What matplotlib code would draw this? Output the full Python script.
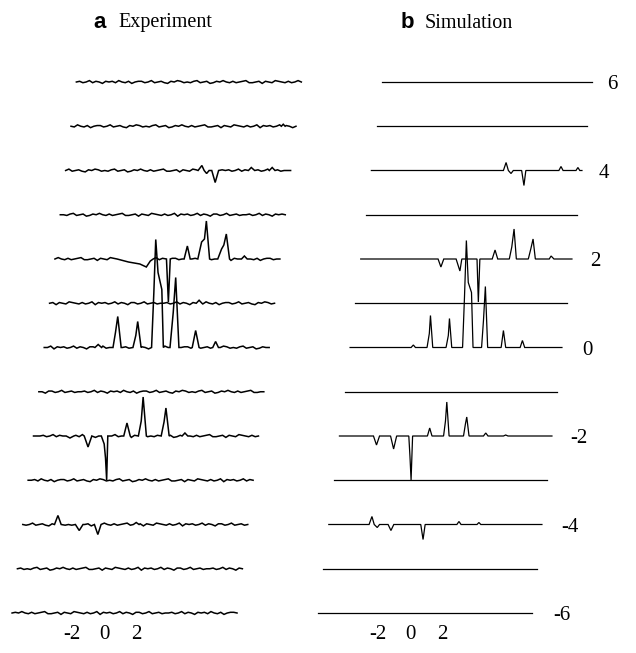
import numpy as np
import matplotlib
matplotlib.use("Agg")
import matplotlib.pyplot as plt

W, H = 636, 653
PX = 19.0          # pixels per spectral unit
LEVEL_PX = 44.25   # pixels between trace baselines

levels = [6, 5, 4, 3, 2, 1, 0, -1, -2, -3, -4, -5, -6]
level_labels = [6, 4, 2, 0, -2, -4, -6]
axis_ticks = [-2, 0, 2]

# peak groups: (position, height in px); each group starts and ends on the baseline
exp_features = {
    5: [[(5.6, 0), (5.7, 2), (5.8, 0)]],
    4: [[(1.5, 0), (1.7, 5), (1.82, 0), (1.95, -3), (2.08, 0)],
        [(2.22, 0), (2.4, -12), (2.58, 0)],
        [(4.15, 0), (4.3, 3), (4.48, 0)],
        [(5.25, 0), (5.4, 3), (5.55, 0)]],
    2: [[(-2.2, 0), (-1.6, -3), (-1.0, -5), (-0.66, -8), (-0.45, -2), (-0.3, 0)],
        [(0.4, 0), (0.5, -43), (0.6, 0)],
        [(1.33, 0), (1.5, 13), (1.65, 0)],
        [(2.05, 0), (2.25, 17), (2.4, 20), (2.5, 38), (2.67, 0)],
        [(3.1, 0), (3.3, 10), (3.42, 14), (3.55, 25), (3.72, 0)],
        [(4.35, 0), (4.5, 3), (4.65, 0)]],
    1: [[(2.25, 0), (2.4, 3), (2.55, 0)]],
    0: [[(-2.8, 0), (-2.63, 3), (-2.45, 0)],
        [(-1.85, 0), (-1.72, 15), (-1.6, 31), (-1.42, 0)],
        [(-0.8, 0), (-0.65, 12), (-0.55, 26), (-0.37, 0)],
        [(0.18, 0), (0.3, 55), (0.4, 108), (0.52, 75), (0.72, 58), (0.8, 0)],
        [(1.15, 0), (1.32, 35), (1.45, 70), (1.62, 0)],
        [(2.32, 0), (2.5, 17), (2.68, 0)],
        [(3.4, 0), (3.55, 6), (3.7, 0)]],
    -2: [[(-3.75, 0), (-3.55, -2), (-3.35, 0)],
         [(-2.8, 0), (-2.6, -11), (-2.4, 0)],
         [(-1.9, 0), (-1.75, -8), (-1.68, -22), (-1.62, -44), (-1.56, 0)],
         [(-0.72, 0), (-0.55, 13), (-0.38, 0)],
         [(0.05, 0), (0.2, 15), (0.3, 39), (0.47, 0)],
         [(1.25, 0), (1.4, 14), (1.5, 28), (1.67, 0)],
         [(2.35, 0), (2.5, 3), (2.65, 0)]],
    -4: [[(-3.8, 0), (-3.62, 9), (-3.45, 0)],
         [(-2.7, 0), (-2.5, -6), (-2.3, 0)],
         [(-1.7, 0), (-1.52, -10), (-1.35, 0)],
         [(0.35, 0), (0.5, 2), (0.65, 0)]],
}

sim_features = {
    4: [[(1.38, 0), (1.52, 8), (1.64, 0), (1.78, -3), (1.9, 0)],
        [(2.34, 0), (2.46, -15), (2.56, 0)],
        [(4.3, 0), (4.41, 4), (4.52, 0)],
        [(5.2, 0), (5.3, 3), (5.4, 0)]],
    2: [[(-1.5, 0), (-1.35, -8), (-1.2, 0)],
        [(-0.55, 0), (-0.35, -12), (-0.25, 0)],
        [(0.55, 0), (0.62, -43), (0.7, 0)],
        [(1.35, 0), (1.5, 9), (1.64, 0)],
        [(2.25, 0), (2.38, 12), (2.5, 30), (2.62, 0)],
        [(3.25, 0), (3.38, 10), (3.5, 20), (3.62, 0)],
        [(4.35, 0), (4.45, 3), (4.6, 0)]],
    0: [[(-2.36, 0), (-2.24, 2.5), (-2.13, 0)],
        [(-1.52, 0), (-1.4, 14), (-1.34, 32), (-1.22, 0)],
        [(-0.52, 0), (-0.4, 12), (-0.34, 29), (-0.22, 0)],
        [(0.35, 0), (0.45, 50), (0.55, 107), (0.65, 65), (0.82, 55), (0.9, 0)],
        [(1.35, 0), (1.45, 27), (1.55, 61), (1.67, 0)],
        [(2.38, 0), (2.5, 17), (2.62, 0)],
        [(3.38, 0), (3.5, 7), (3.62, 0)]],
    -2: [[(-3.78, 0), (-3.62, -9), (-3.46, 0)],
         [(-2.88, 0), (-2.72, -13), (-2.56, 0)],
         [(-1.92, 0), (-1.86, -20), (-1.8, -44), (-1.72, 0)],
         [(-0.94, 0), (-0.82, 8), (-0.7, 0)],
         [(-0.09, 0), (0.01, 15), (0.08, 34), (0.2, 0)],
         [(0.96, 0), (1.06, 12), (1.13, 19), (1.25, 0)],
         [(2.01, 0), (2.13, 3), (2.25, 0)],
         [(3.06, 0), (3.18, 1), (3.3, 0)]],
    -4: [[(-3.45, 0), (-3.3, 8), (-3.18, 0), (-3.02, -3), (-2.9, 0)],
         [(-2.45, 0), (-2.3, -6), (-2.15, 0)],
         [(-0.73, 0), (-0.61, -15), (-0.5, 0)],
         [(1.17, 0), (1.28, 3), (1.39, 0)],
         [(2.23, 0), (2.33, 2), (2.43, 0)]],
}

# hand-typed baseline wiggle (px) for the measured spectra
wiggle = [0, 1, -1, 0, 2, -1, 1, 0, -2, 1, 0, 1, -1, 2, 0, -1, 1, -2, 0, 1,
          1, -1, 0, 2, -1, 0, 1, -1, -2, 1, 0, 2, 1, -1, 0, -1, 1, 2, -1, 0,
          1, -2, -1, 1, 0, 2, 0, -1, 1, -1, 0, 1, 2, -1, -1, 0, 1, -2, 1, 0,
          -1, 2, 1, 0, -1, 1, -1, 0, 2, -2, 1, 0, 1, -1, 0, 2, -1, 1, 0, -2,
          1, 1, -1, 0, 2, -1, 0, 1, -1, 0]

# layout: zero position (px), trace start, trace end at bottom / top level, skew per level,
# and the pixel calibration of the printed field axis (-2 0 2)
panels = {
    "exp": dict(zero_px=116, start=-5.47, end=(6.37, 6.37), skew=0.282, px_range=(0, 318),
                lw=1.1, tick_zero=104, tick_px=16.0),
    "sim": dict(zero_px=424, start=-5.57, end=(5.68, 5.48), skew=0.28, px_range=(318, 636),
                lw=0.9, tick_zero=410, tick_px=16.0),
}
LABEL_BASE, LABEL_SKEW = 7.263, 0.219

plt.rcParams["font.family"] = ["Liberation Serif", "DejaVu Serif"]
fig = plt.figure(figsize=(W / 100, H / 100), dpi=100)

AX_BOTTOM_PX = 622
TOP_LEVEL_PX = 82
ZERO_LEVEL_PX = TOP_LEVEL_PX + 6 * LEVEL_PX


def make_axes(p):
    x0, x1 = p["px_range"]
    ax = fig.add_axes([x0 / W, (H - AX_BOTTOM_PX) / H, (x1 - x0) / W, AX_BOTTOM_PX / H])
    ax.set_xlim((x0 - p["zero_px"]) / PX, (x1 - p["zero_px"]) / PX)
    ax.set_ylim((ZERO_LEVEL_PX - AX_BOTTOM_PX) / LEVEL_PX, ZERO_LEVEL_PX / LEVEL_PX)
    for s in ax.spines.values():
        s.set_visible(False)
    ax.set_yticks([])
    ax.set_xticks([])
    ax.patch.set_visible(False)

    zp, tz, tp = p["zero_px"], p["tick_zero"], p["tick_px"]
    sec = ax.secondary_xaxis(
        "bottom",
        functions=(lambda u: (PX * u + zp - tz) / tp, lambda v: (tp * v + tz - zp) / PX))
    sec.set_xticks(axis_ticks)
    sec.set_xticklabels([str(t) for t in axis_ticks], fontsize=15)
    sec.tick_params(axis="x", length=0, pad=2)
    sec.spines["bottom"].set_visible(False)
    return ax


def trace_points(level, feats, span, noisy, shift):
    groups = feats.get(level, [])
    xs, ys = [], []
    for g in groups:
        for u, h in g:
            xs.append(u)
            ys.append(h)
    xs += [span[0], span[1]]
    ys += [0, 0]
    if noisy:
        n = 70
        step = (span[1] - span[0]) / (n - 1)
        for k in range(1, n - 1):
            u = span[0] + k * step
            if any(g[0][0] - 0.04 <= u <= g[-1][0] + 0.04 for g in groups):
                continue
            xs.append(u)
            ys.append(0.7 * wiggle[(k + shift) % len(wiggle)])
    order = np.argsort(xs, kind="stable")
    return np.array(xs)[order], np.array(ys)[order]


for key, feats, noisy in (("exp", exp_features, True), ("sim", sim_features, False)):
    p = panels[key]
    ax = make_axes(p)
    for i, L in enumerate(levels):
        frac = (L + 6) / 12
        end = p["end"][0] + (p["end"][1] - p["end"][0]) * frac
        u, h = trace_points(L, feats, (p["start"], end), noisy, 11 * i)
        ax.plot(u + p["skew"] * (L + 6), L + h / LEVEL_PX, color="black",
                lw=p["lw"], clip_on=False, solid_joinstyle="miter")
    if key == "sim":
        for L in level_labels:
            ax.text(LABEL_BASE + LABEL_SKEW * (L + 6), L - 0.06, str(L),
                    ha="center", va="center", fontsize=15)

fig.text(100 / W, 1 - 23 / H, "a", fontsize=16, fontweight="bold",
         family="Liberation Sans", ha="center", va="center")
fig.text(118 / W, 1 - 23 / H, "Experiment", fontsize=14.5, ha="left", va="center")
fig.text(407 / W, 1 - 23 / H, "b", fontsize=16, fontweight="bold",
         family="Liberation Sans", ha="center", va="center")
fig.text(425 / W, 1 - 23 / H, "Simulation", fontsize=14.5, ha="left", va="center")

fig.savefig("out.png", dpi=100)
